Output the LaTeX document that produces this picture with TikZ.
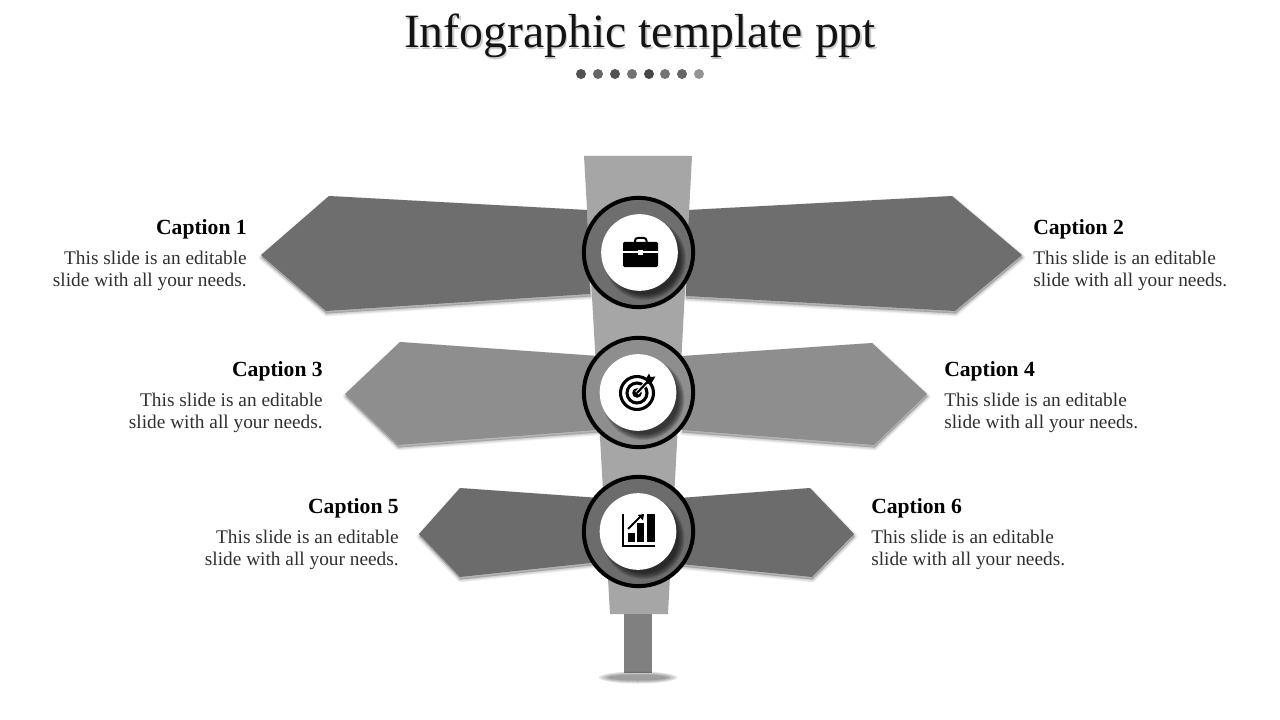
\documentclass[tikz,border=0pt]{standalone}
\usepackage{fontspec}
\setmainfont{Liberation Serif}
\definecolor{armdark}{HTML}{6E6E6E}
\definecolor{armmid}{HTML}{8E8E8E}
\definecolor{armlow}{HTML}{6C6C6C}
\definecolor{poleg}{HTML}{A6A6A6}
\definecolor{stemg}{HTML}{808080}
\definecolor{textg}{HTML}{303030}
\tikzset{
  px/.style={x=0.75pt,y=-0.75pt},
  capt/.style={inner sep=0pt,font=\fontsize{16.2pt}{18pt}\selectfont\bfseries,text=black},
  bodyt/.style={inner sep=0pt,font=\fontsize{14.5pt}{17pt}\selectfont,text=textg},
  ringline/.style={draw=black,line width=3pt},
}
\newcommand{\softshadow}[1]{%
  \foreach \w in {4.5,3.5,2.5,1.5,0.5}{
    \draw[black,draw opacity=.045,fill=black,fill opacity=.045,line width=\w pt,line join=round,shift={(0.5,2.5)}] #1 -- cycle;
  }%
}
\newcommand{\capblock}[5]{% name, x, y(caption baseline), anchor, caption
  \node[capt,anchor=#4] (#1c) at (#2,#3) {#5};
  \node[bodyt,anchor=#4] (#1a) at (#2,#3+30) {This slide is an editable};
  \node[bodyt,anchor=#4] (#1b) at (#2,#3+52.5) {slide with all your needs.};
}
\newcommand{\hub}[5]{% name, cx, cy, ring fill, white centre x
  \fill[#4] (#2,#3) circle[radius=55];
  \begin{scope}
    \clip (#2,#3) circle[radius=55];
    \foreach \r in {41,40,39,38,37,36,35}{
      \fill[black,opacity=.12] (#5+5.5,#3+6.5) circle[radius=\r];
    }
  \end{scope}
  \node[draw=none,fill=white,circle,minimum size=57.5pt,inner sep=0pt] (#1w) at (#5,#3) {};
  \node[ringline,fill=none,circle,minimum size=82pt,inner sep=0pt] (#1r) at (#2,#3) {};
}
\begin{document}
\begin{tikzpicture}[px]
\useasboundingbox (0,0) rectangle (1280,720);
\fill[white] (0,0) rectangle (1280,720);
% title
\node[inner sep=0pt,anchor=base,font=\fontsize{35.8pt}{40pt}\selectfont] (title) at (640,47.5)
  {\rlap{\raisebox{-1.8pt}{\hspace{1pt}\textcolor{black!20}{Infographic template ppt}}}\textcolor{black!92}{Infographic template ppt}};
% dots
\foreach \x/\g in {581/68,598/60,615/68,632/55,649/72,665/55,682/60,699/42}{
  \fill[black!\g] (\x,74) circle[radius=5];
}
% arms
\def\aone{(587,210) -- (329,196) -- (261,255) -- (326,311) -- (590,294)}
\def\atwo{(688,210) -- (952,196) -- (1022,255) -- (955,311) -- (686,296)}
\def\athr{(598,356) -- (400,342) -- (345,394) -- (398,445) -- (598,430)}
\def\afou{(682,356) -- (872,343) -- (927,394) -- (874,445) -- (682,430)}
\def\afiv{(600,498) -- (460,488) -- (419,534) -- (460,577) -- (600,562)}
\def\asix{(680,498) -- (810,488) -- (854,534) -- (812,577) -- (680,564)}
\softshadow{\aone}\softshadow{\atwo}\softshadow{\athr}\softshadow{\afou}\softshadow{\afiv}\softshadow{\asix}
\fill[armdark] \aone -- cycle;
\fill[armdark] \atwo -- cycle;
\fill[armmid] \athr -- cycle;
\fill[armmid] \afou -- cycle;
\fill[armlow] \afiv -- cycle;
\fill[armlow] \asix -- cycle;
% pole and stem
\fill[poleg] (584,156) -- (692,156) -- (668,614) -- (610,614) -- cycle;
\fill[stemg] (624,614) rectangle (652,673);
% ground shadow
\foreach \a/\b in {39/6,36/5,33/4,30/3}{
  \fill[black,opacity=.11] (638,677.5) ellipse[x radius=\a,y radius=\b];
}
% hubs
\hub{h1}{638.5}{252.5}{armdark}{639.5}
\hub{h2}{638.5}{392.5}{armmid}{638}
\hub{h3}{638.5}{531.5}{armlow}{638}
% briefcase
\fill[black,rounded corners=1pt] (623,242) rectangle (658,267);
\draw[black,line width=1.5pt,rounded corners=2pt] (635,242) -- (635,238) -- (646.5,238) -- (646.5,242);
\fill[white] (623,251) rectangle (658,252.5);
\fill[white] (638,250) rectangle (643,254.5);
% target
\draw[black,line width=2.3pt] (637,393) circle[radius=16.5];
\draw[black,line width=2.3pt] (637,393) circle[radius=10];
\fill[black] (637,393) circle[radius=4.8];
\draw[white,line width=3.2pt] (637,393) -- (651,378);
\draw[black,line width=1.6pt] (637,393) -- (650,379);
\fill[black] (645.5,379.5) -- (649,373.5) -- (650.5,377) -- (655.5,376.5) -- (651.5,383) -- (647.5,384) -- cycle;
% chart
\fill[black] (622,514) rectangle (624,547);
\fill[black] (622,545) rectangle (655,547);
\fill[black] (628,533) rectangle (635,542);
\fill[black] (637,523) rectangle (644,542);
\fill[black] (647,514) rectangle (655,542);
\draw[black,line width=1.4pt] (628,529) -- (641,516);
\fill[black] (644,514) -- (643,520.5) -- (637.5,515) -- cycle;
% captions
\capblock{a}{247}{234}{base east}{Caption 1}
\capblock{b}{1033}{234}{base west}{Caption 2}
\capblock{c}{323}{376}{base east}{Caption 3}
\capblock{d}{944}{376}{base west}{Caption 4}
\capblock{e}{399}{513}{base east}{Caption 5}
\capblock{f}{871}{513}{base west}{Caption 6}
\end{tikzpicture}
\end{document}
